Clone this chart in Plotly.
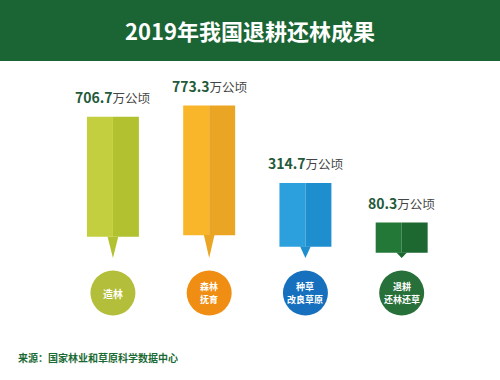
import plotly.graph_objects as go

# ---- data ----
categories = ["造林", "森林 抚育", "种草 改良草原", "退耕 还林还草"]
values = [706.7, 773.3, 314.7, 80.3]
unit = "万公顷"
title = "2019年我国退耕还林成果"
source = "来源：国家林业和草原科学数据中心"

# ---- styles ----
light_colors = ["#c3cf3e", "#f9b62b", "#2c9fdd", "#237838"]
dark_colors = ["#b1c12f", "#eba524", "#1e8ecf", "#1c6830"]
circle_colors = ["#b3be3a", "#ef8e12", "#1670bd", "#28703a"]
HEADER = "#1b6535"
FONT = "Noto Sans CJK SC"

W, H = 500, 380
OFFSET = 130.0            # visual base offset (infographic-style bars)
Y_MIN, Y_MAX = -853.0, 1399.0
PTR_FRAC = 0.15           # pointer height as share of bar length
HALF = 0.27               # half bar width (x units)
PTR_HALF = 0.055          # half pointer base width
CIRCLE_Y = Y_MIN + (H - 293) / H * (Y_MAX - Y_MIN)

xs = list(range(len(categories)))
base_tip = -OFFSET
rect_base = [base_tip + PTR_FRAC * (v + OFFSET) for v in values]

fig = go.Figure()

# left (lighter) half
fig.add_trace(go.Bar(
    x=xs, y=[v - b for v, b in zip(values, rect_base)], base=rect_base,
    width=HALF, offset=-HALF, marker=dict(color=light_colors, line=dict(width=0)),
    hoverinfo="skip", showlegend=False))
# right (darker) half
fig.add_trace(go.Bar(
    x=xs, y=[v - b for v, b in zip(values, rect_base)], base=rect_base,
    width=HALF, offset=0, marker=dict(color=dark_colors, line=dict(width=0)),
    hoverinfo="skip", showlegend=False))

# pointers
for i, rb in enumerate(rect_base):
    fig.add_trace(go.Scatter(
        x=[i - PTR_HALF, i + PTR_HALF, i, i - PTR_HALF],
        y=[rb + 1, rb + 1, base_tip, rb + 1],
        mode="lines", fill="toself", fillcolor=dark_colors[i],
        line=dict(width=0, color=dark_colors[i]),
        hoverinfo="skip", showlegend=False))

# category circles
fig.add_trace(go.Scatter(
    x=xs, y=[CIRCLE_Y] * len(xs), mode="markers",
    marker=dict(size=45, color=circle_colors, line=dict(width=0)),
    hoverinfo="skip", showlegend=False))

# circle labels, one annotation per line
LINE_GAP = 13
for i, c in enumerate(categories):
    lines = c.split(" ")
    n = len(lines)
    fsize = 10 if n == 1 else 9
    for j, ln in enumerate(lines):
        fig.add_annotation(
            x=i, y=CIRCLE_Y, xref="x", yref="y", showarrow=False,
            xanchor="center", yanchor="middle",
            yshift=(n - 1) * LINE_GAP / 2 - j * LINE_GAP,
            text=f"<b>{ln}</b>", borderpad=0,
            font=dict(family=FONT, size=fsize, color="white"))

# value labels
for i, v in enumerate(values):
    fig.add_annotation(
        x=i, y=v, xref="x", yref="y", yanchor="bottom", yshift=8, showarrow=False,
        text=(f"<span style='font-size:14px;color:#1f5a3a'><b>{v:.1f}</b></span>"
              f"<span style='font-size:12.5px;color:#444444'>{unit}</span>"),
        font=dict(family=FONT, size=12.5))

# header band
fig.add_shape(type="rect", xref="paper", yref="paper", x0=0, x1=1,
              y0=(H - 61) / H, y1=1, fillcolor=HEADER, line=dict(width=0), layer="below")
fig.add_annotation(xref="paper", yref="paper", x=0.5, y=(H - 30) / H,
                   xanchor="center", yanchor="middle", showarrow=False,
                   text=f"<b>{title}</b>",
                   font=dict(family=FONT, size=22, color="white"))

# source
fig.add_annotation(xref="paper", yref="paper", x=16 / W, y=(H - 357) / H,
                   xanchor="left", yanchor="middle", showarrow=False,
                   text=f"<b>{source}</b>",
                   font=dict(family=FONT, size=10, color="#1b6a35"))

fig.update_layout(
    width=W, height=H, margin=dict(l=0, r=0, t=0, b=0),
    paper_bgcolor="white", plot_bgcolor="rgba(0,0,0,0)",
    barmode="overlay",
    xaxis=dict(domain=[64.8 / W, 449.8 / W], range=[-0.5, 3.5], visible=False,
               fixedrange=True),
    yaxis=dict(domain=[0, 1], range=[Y_MIN, Y_MAX], visible=False, fixedrange=True),
)

fig.write_html("out.html", config={"displayModeBar": False},
               post_script="document.body.style.margin='0';document.body.style.overflow='hidden';")
